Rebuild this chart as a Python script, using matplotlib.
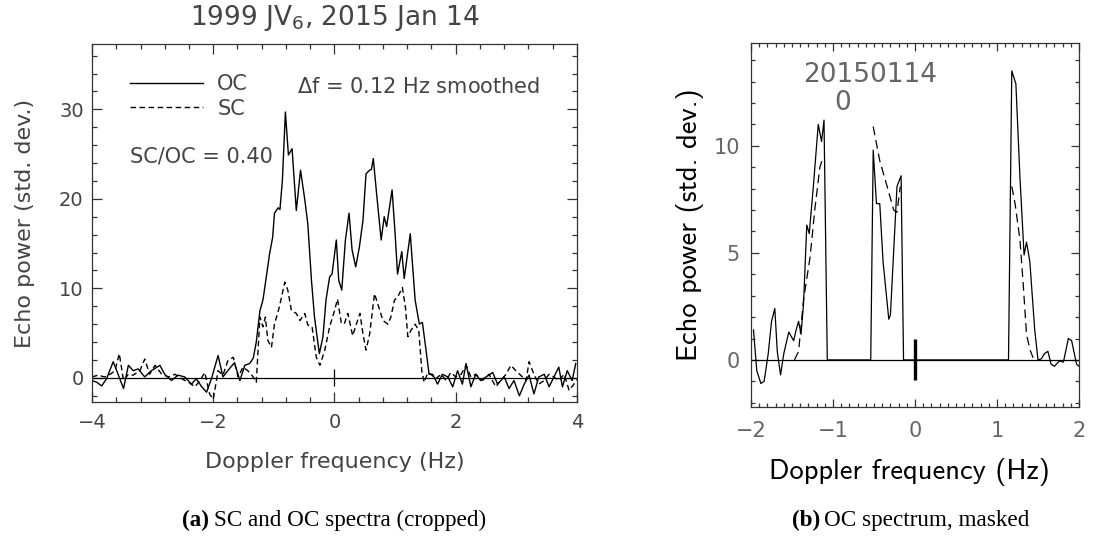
import matplotlib
matplotlib.use("Agg")
import matplotlib.pyplot as plt
from matplotlib.ticker import MultipleLocator
import numpy as np

# ---- panel (a): OC / SC spectra, 0.12 Hz smoothed
oc_freq = [-4.00, -3.92, -3.84, -3.76, -3.65, -3.57, -3.48, -3.40, -3.32, -3.24,
           -3.13, -3.02, -2.88, -2.80, -2.69, -2.58, -2.47, -2.36, -2.28, -2.19,
           -2.11, -2.03, -1.92, -1.84, -1.76, -1.65, -1.56, -1.48, -1.40, -1.34,
           -1.29, -1.23, -1.18, -1.12, -1.07, -1.02, -0.99, -0.93, -0.90, -0.86,
           -0.81, -0.76, -0.70, -0.63, -0.56, -0.49, -0.44, -0.38, -0.33, -0.25,
           -0.19, -0.14, -0.08, -0.04, 0.03, 0.07, 0.12, 0.18, 0.24, 0.29,
           0.35, 0.41, 0.47, 0.52, 0.58, 0.61, 0.64, 0.70, 0.77, 0.82,
           0.86, 0.95, 1.00, 1.04, 1.11, 1.15, 1.25, 1.33, 1.40, 1.45,
           1.51, 1.56, 1.62, 1.70, 1.78, 1.87, 1.95, 2.03, 2.11, 2.17,
           2.25, 2.33, 2.41, 2.50, 2.61, 2.69, 2.80, 2.88, 2.96, 3.05,
           3.13, 3.21, 3.29, 3.37, 3.46, 3.54, 3.62, 3.70, 3.76, 3.84,
           3.92, 3.98]
oc_power = [-0.3, -0.5, -0.9, -0.1, 1.8, 0.4, -1.2, 1.4, 0.8, 1.0,
            0.1, 0.8, 1.4, 0.4, -0.3, 0.3, 0.1, -0.7, -0.1, -1.0,
            -1.6, -0.1, 2.5, 0.1, 0.8, 1.7, -0.3, 1.4, 1.6, 2.2,
            4.0, 7.5, 8.7, 11.5, 13.9, 15.7, 18.4, 19.0, 18.8, 22.0,
            29.7, 24.9, 25.6, 18.7, 23.2, 19.9, 17.2, 10.9, 6.8, 2.7,
            4.6, 8.7, 11.3, 11.6, 15.4, 10.9, 9.8, 15.4, 18.4, 14.3,
            12.4, 14.6, 17.6, 22.8, 23.2, 23.3, 24.5, 20.2, 15.4, 18.0,
            16.9, 21.0, 16.1, 11.6, 14.1, 11.1, 16.1, 8.7, 6.0, 6.2,
            3.1, 0.4, 0.4, -0.7, 0.4, 0.1, -1.0, 0.8, -0.7, 1.6,
            -1.0, 0.4, -0.3, 0.1, 0.6, -0.7, 0.1, -1.2, -0.3, -2.0,
            -0.7, 0.3, -1.8, 0.1, 0.4, -1.0, 0.1, 1.2, -1.0, 0.8,
            -0.3, 1.6]

sc_freq = [-4.00, -3.90, -3.79, -3.70, -3.62, -3.55, -3.48, -3.40, -3.32, -3.21,
           -3.13, -3.05, -2.96, -2.85, -2.74, -2.63, -2.52, -2.41, -2.30, -2.22,
           -2.14, -2.06, -2.00, -1.92, -1.84, -1.76, -1.67, -1.59, -1.51, -1.43,
           -1.34, -1.29, -1.23, -1.18, -1.14, -1.10, -1.04, -0.99, -0.91, -0.82,
           -0.77, -0.71, -0.63, -0.57, -0.49, -0.44, -0.37, -0.30, -0.24, -0.16,
           -0.08, 0.00, 0.05, 0.11, 0.16, 0.22, 0.30, 0.36, 0.42, 0.47,
           0.52, 0.58, 0.66, 0.73, 0.80, 0.88, 0.93, 0.99, 1.04, 1.12,
           1.17, 1.21, 1.26, 1.33, 1.39, 1.44, 1.48, 1.54, 1.59, 1.67,
           1.76, 1.84, 1.92, 2.00, 2.09, 2.17, 2.25, 2.33, 2.44, 2.55,
           2.66, 2.74, 2.83, 2.91, 2.99, 3.07, 3.16, 3.21, 3.29, 3.37,
           3.46, 3.54, 3.62, 3.70, 3.79, 3.87, 3.95, 4.00]
sc_power = [0.1, 0.3, 0.1, 0.4, 0.8, 2.7, -0.3, 0.4, 0.3, 0.8,
            2.1, 0.4, 1.4, 0.4, 0.1, 0.4, -0.1, -0.5, -1.0, -0.3,
            0.6, -1.8, -2.4, 0.8, 0.3, 1.9, 2.3, 0.1, 1.2, 0.8,
            0.1, -0.5, 6.8, 5.7, 6.8, 4.2, 3.4, 6.0, 7.9, 10.7,
            9.8, 7.5, 7.2, 6.4, 7.2, 5.9, 5.7, 2.3, 1.4, 3.1,
            5.7, 7.5, 8.8, 6.2, 6.0, 7.2, 4.7, 6.0, 7.2, 4.9,
            3.1, 4.9, 9.4, 7.9, 6.4, 6.0, 6.8, 8.7, 9.0, 10.1,
            7.9, 4.6, 5.3, 6.0, 5.3, 0.8, -0.5, 0.6, 0.4, -0.1,
            0.4, -0.3, 0.6, 0.1, 0.4, 1.4, 0.1, 0.4, -0.3, 0.4,
            -1.0, -0.3, 0.4, 1.4, 0.8, 0.3, -0.3, 1.8, 0.4, -0.7,
            -0.3, 0.4, 0.1, -0.3, 0.4, -1.4, -0.7, -0.2]

# ---- panel (b): masked OC spectrum (solid) and model (dashed)
mask_freq = [-1.97, -1.93, -1.88, -1.84, -1.79, -1.75, -1.71, -1.68, -1.64, -1.60,
             -1.54, -1.48, -1.45, -1.42, -1.39, -1.36, -1.32, -1.29, -1.24, -1.18,
             -1.14, -1.11, -1.07, -0.54, -0.51, -0.47, -0.43, -0.39, -0.32, -0.30,
             -0.22, -0.17, -0.14, 1.14, 1.18, 1.23, 1.28, 1.33, 1.36, 1.40,
             1.46, 1.50, 1.54, 1.58, 1.62, 1.66, 1.70, 1.76, 1.81, 1.87,
             1.91, 1.97, 2.00]
mask_power = [1.4, -0.5, -1.1, -1.0, 0.3, 1.8, 2.4, 0.4, -0.7, 0.3,
              1.3, 0.9, 1.4, 1.8, 1.2, 2.6, 6.3, 5.9, 8.1, 11.0,
              10.2, 11.2, 0.0, 0.0, 9.8, 7.3, 7.3, 4.6, 1.9, 2.1,
              8.1, 8.6, 0.0, 0.0, 13.5, 12.9, 8.5, 4.9, 5.5, 4.6,
              1.4, 0.0, 0.05, 0.3, 0.4, -0.2, -0.3, -0.05, -0.1, 1.0,
              0.9, -0.2, -0.3]
model_freq = [-1.47, -1.42, -1.36, -1.28, -1.22, -1.16, -1.12, np.nan,
              -0.51, -0.43, -0.34, -0.26, -0.22, -0.18, np.nan,
              1.18, 1.22, 1.28, 1.32, 1.36, 1.40, 1.44]
model_power = [0.0, 0.4, 2.8, 4.8, 7.1, 9.0, 9.5, np.nan,
               10.9, 9.3, 8.1, 7.0, 6.9, 8.1, np.nan,
               8.1, 7.3, 5.6, 3.5, 1.2, 0.5, 0.1]

sans = "DejaVu Sans"
txt = "#444444"
light = "#666666"

fig = plt.figure(figsize=(10.94, 5.44), dpi=100)

# ---------------- panel (a)
ax = fig.add_axes([0.0841, 0.2610, 0.4433, 0.6581])
ax.plot(oc_freq, oc_power, color="black", lw=1.0, label="OC")
ax.plot(sc_freq, sc_power, color="black", lw=1.0, ls=(0, (4, 2.5)), label="SC")
ax.axhline(0, color="black", lw=0.9)
ax.vlines(0, -0.9, 1.0, color="black", lw=0.9)
ax.set_xlim(-4, 4)
ax.set_ylim(-2.7, 37.3)
ax.xaxis.set_major_locator(MultipleLocator(2))
ax.xaxis.set_minor_locator(MultipleLocator(0.4))
ax.yaxis.set_major_locator(MultipleLocator(10))
ax.yaxis.set_minor_locator(MultipleLocator(2))
ax.tick_params(which="both", direction="in", top=True, right=True,
               colors="#333333", labelcolor=txt, labelsize=14)
ax.tick_params(which="major", length=7, width=0.9)
ax.tick_params(which="minor", length=3.5, width=0.9)
ax.tick_params(axis="x", pad=8)
ax.tick_params(axis="y", pad=6)
for lab in ax.get_xticklabels() + ax.get_yticklabels():
    lab.set_family(sans)
for s in ax.spines.values():
    s.set_color("#333333")
    s.set_linewidth(0.9)
ax.set_xlabel("Doppler frequency (Hz)", family=sans, fontsize=16,
              color=txt, va="center")
ax.xaxis.set_label_coords(0.5, -0.168)
ax.set_ylabel("Echo power (std. dev.)", family=sans, fontsize=16,
              color=txt, va="center")
ax.yaxis.set_label_coords(-0.138, 0.5)
ax.text(0.5, 1.073, "1999 JV$_6$, 2015 Jan 14", transform=ax.transAxes,
        ha="center", va="center", family=sans, fontsize=19, color=txt)
leg = ax.legend(loc="upper left", bbox_to_anchor=(0.078, 0.915), frameon=False,
                borderpad=0, borderaxespad=0, handlelength=3.5,
                handletextpad=0.7, labelspacing=0.2,
                prop={"family": sans, "size": 15})
for t in leg.get_texts():
    t.set_color(txt)
ax.text(0.423, 0.881, r"$\Delta$f = 0.12 Hz smoothed", transform=ax.transAxes,
        ha="left", va="center", family=sans, fontsize=15, color=txt)
ax.text(0.078, 0.686, "SC/OC = 0.40", transform=ax.transAxes,
        ha="left", va="center", family=sans, fontsize=15, color=txt)

# ---------------- panel (b)
bx = fig.add_axes([0.6865, 0.2518, 0.2998, 0.6691])
bx.plot(mask_freq, mask_power, color="black", lw=0.9)
bx.plot(model_freq, model_power, color="black", lw=0.9, ls=(0, (7, 4)))
bx.axhline(0, color="black", lw=0.9)
bx.vlines(0, -0.96, 1.0, color="black", lw=2.4)
bx.set_xlim(-2, 2)
bx.set_ylim(-2.2, 14.8)
bx.xaxis.set_major_locator(MultipleLocator(1))
bx.xaxis.set_minor_locator(MultipleLocator(0.1))
bx.yaxis.set_major_locator(MultipleLocator(5))
bx.yaxis.set_minor_locator(MultipleLocator(1))
bx.tick_params(which="both", direction="in", top=True, right=True,
               colors="#333333", labelcolor=light, labelsize=15)
bx.tick_params(which="major", length=6, width=0.9)
bx.tick_params(which="minor", length=3, width=0.9)
bx.tick_params(axis="x", pad=10)
bx.tick_params(axis="y", pad=8)
for lab in bx.get_xticklabels() + bx.get_yticklabels():
    lab.set_family(sans)
for s in bx.spines.values():
    s.set_color("#333333")
    s.set_linewidth(0.9)
bx.set_xlabel("Doppler frequency (Hz)", family="cmss10", fontsize=20.5,
              color="black", va="center")
bx.xaxis.set_label_coords(0.482, -0.179)
bx.set_ylabel("Echo power (std. dev.)", family="cmss10", fontsize=20.5,
              color="black", va="center")
bx.yaxis.set_label_coords(-0.186, 0.5)
bx.text(0.363, 0.912, "20150114", transform=bx.transAxes, ha="center",
        va="center", family=sans, fontsize=19, color=light)
bx.text(0.278, 0.835, "0", transform=bx.transAxes, ha="center",
        va="center", family=sans, fontsize=19, color=light)

# ---------------- captions
fig.text(0.1664, 0.044, "(a)", family="Liberation Serif", fontweight="bold",
         fontsize=16.7, ha="left", va="center")
fig.text(0.1956, 0.044, "SC and OC spectra (cropped)", family="Liberation Serif",
         fontsize=16.7, ha="left", va="center")
fig.text(0.7240, 0.044, "(b)", family="Liberation Serif", fontweight="bold",
         fontsize=16.7, ha="left", va="center")
fig.text(0.7532, 0.044, "OC spectrum, masked", family="Liberation Serif",
         fontsize=16.7, ha="left", va="center")

fig.savefig("out.png", dpi=100, facecolor="white")
